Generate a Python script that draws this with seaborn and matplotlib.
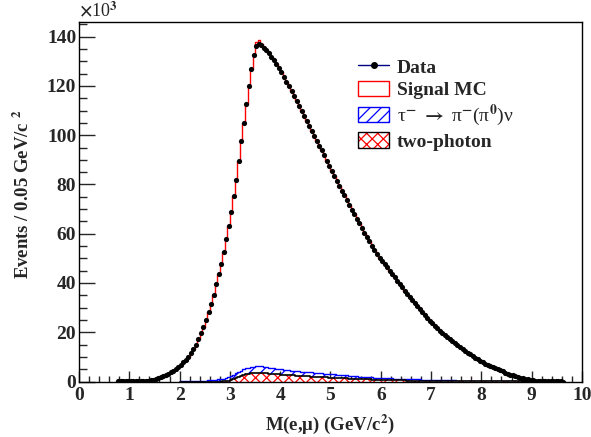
import numpy as np
import matplotlib
matplotlib.use('Agg')
import matplotlib.pyplot as plt
import seaborn as sns
from matplotlib.lines import Line2D
from matplotlib.patches import Patch
from matplotlib.legend_handler import HandlerTuple
from matplotlib.ticker import MultipleLocator

# M(e,mu) data, 0.05 GeV bins starting at 0.75 GeV, values in units of 10^3 events
bin_width = 0.05
data_start = 0.75
data_counts = [
    0.02, 0.02, 0.03, 0.04, 0.05, 0.06, 0.08, 0.10, 0.13, 0.17,
    0.22, 0.30, 0.40, 0.52, 0.75, 1.0, 1.3, 1.7, 2.1, 2.6,
    3.1, 3.7, 4.4, 5.1, 5.9, 6.9, 7.8, 8.8, 9.9, 11.4,
    13.2, 15.0, 17.2, 19.6, 22.2, 25.0, 28.2, 31.6, 35.3, 39.5,
    43.7, 47.8, 52.6, 57.7, 63.2, 68.8, 75.5, 82.0, 89.5, 97.5,
    105.0, 112.8, 120.0, 127.0, 132.4, 136.4, 137.0, 136.5,
    135.6, 134.5, 133.2, 131.9, 130.4, 128.9, 127.2, 125.5, 123.7, 121.8,
    119.9, 117.9, 115.9, 113.9, 111.9, 109.9, 107.9, 105.9, 103.9, 101.8,
    99.8, 97.8, 95.8, 93.8, 91.8, 89.7, 87.6, 85.6, 83.5, 81.5,
    79.5, 77.5, 75.6, 73.6, 71.7, 69.8, 67.9, 66.0, 64.2, 62.3,
    60.5, 58.7, 56.9, 55.2, 53.5, 51.9, 50.3,
    49.0, 47.6, 46.3, 45.0, 43.6, 42.3, 40.9, 39.6, 38.2, 36.9,
    35.5, 34.2, 33.0, 31.8, 30.6, 29.5, 28.3, 27.1, 25.9, 24.7,
    23.7, 22.7, 21.7, 20.7, 19.8, 19.0, 18.1, 17.3, 16.4, 15.5,
    14.7, 13.9, 13.2, 12.4, 11.7, 11.0, 10.4, 9.7, 9.1, 8.5,
    7.9, 7.3, 6.8, 6.2, 5.8, 5.3, 4.9, 4.5, 4.1, 3.6,
    3.2, 2.8, 2.5, 2.1, 1.8, 1.5, 1.3, 1.1, 0.9, 0.7,
    0.55, 0.4, 0.3, 0.25,
    0.18, 0.12, 0.08, 0.05, 0.03, 0.02, 0.01, 0.01, 0.0,
]

signal_mc = [
    0.02, 0.02, 0.03, 0.04, 0.05, 0.06, 0.08, 0.10, 0.13, 0.17,
    0.22, 0.30, 0.40, 0.52, 0.75, 1.0, 1.3, 1.7, 2.1, 2.6,
    3.1, 3.7, 4.4, 5.1, 5.9, 6.9, 7.8, 8.8, 9.9, 11.4,
    13.2, 15.0, 17.2, 19.6, 22.2, 25.0, 28.2, 31.6, 35.3, 39.5,
    43.7, 47.8, 52.6, 57.7, 63.2, 68.8, 75.5, 82.0, 89.5, 97.5,
    105.0, 112.8, 120.0, 127.0, 133.0, 137.8, 138.8, 137.2,
    135.8, 134.6, 133.3, 131.9, 130.4, 128.9, 127.2, 125.5, 123.7, 121.8,
    119.9, 117.9, 115.9, 113.9, 111.9, 109.9, 107.9, 105.9, 103.9, 101.8,
    99.8, 97.8, 95.8, 93.8, 91.8, 89.7, 87.6, 85.6, 83.5, 81.5,
    79.5, 77.5, 75.6, 73.6, 71.7, 69.8, 67.9, 66.0, 64.2, 62.3,
    60.5, 58.7, 56.9, 55.2, 53.5, 51.9, 50.3,
    49.0, 47.6, 46.3, 45.0, 43.6, 42.3, 40.9, 39.6, 38.2, 36.9,
    35.5, 34.2, 33.0, 31.8, 30.6, 29.5, 28.3, 27.1, 25.9, 24.7,
    23.7, 22.7, 21.7, 20.7, 19.8, 19.0, 18.1, 17.3, 16.4, 15.5,
    14.7, 13.9, 13.2, 12.4, 11.7, 11.0, 10.4, 9.7, 9.1, 8.5,
    7.9, 7.3, 6.8, 6.2, 5.8, 5.3, 4.9, 4.5, 4.1, 3.6,
    3.2, 2.8, 2.5, 2.1, 1.8, 1.5, 1.3, 1.1, 0.9, 0.7,
    0.55, 0.4, 0.3, 0.25,
    0.18, 0.12, 0.08, 0.05, 0.03, 0.02, 0.01, 0.01, 0.0,
]

# backgrounds, 0.05 GeV bins starting at 2.0 GeV
bkg_start = 2.0
tau_pipi0 = [
    0.08, 0.09, 0.10, 0.12, 0.14, 0.16, 0.19, 0.23, 0.27, 0.32,
    0.38, 0.46, 0.56, 0.66, 0.78, 0.90, 1.00, 1.10, 1.22, 1.35,
    1.48, 1.62, 1.78, 1.93, 2.08, 2.22, 2.38, 2.52, 2.65, 2.76,
    2.85, 2.88, 2.82, 2.70, 2.58, 2.48, 2.40, 2.32, 2.24, 2.17,
    2.10, 2.06, 2.02, 1.98, 1.94, 1.90, 1.86, 1.82, 1.79, 1.76,
    1.73, 1.70, 1.68, 1.65, 1.63, 1.60, 1.57, 1.54, 1.51, 1.48,
    1.45, 1.41, 1.37, 1.33, 1.29, 1.25, 1.21, 1.17, 1.13, 1.09,
    1.05, 1.02, 0.99, 0.96, 0.93, 0.90, 0.88, 0.85, 0.83, 0.81,
    0.79, 0.77, 0.75, 0.73, 0.71, 0.69, 0.67, 0.65, 0.63, 0.61,
    0.59, 0.58, 0.56, 0.55, 0.53, 0.52, 0.50, 0.49, 0.47, 0.46,
    0.45, 0.43, 0.42, 0.40, 0.39, 0.37, 0.36, 0.34, 0.33, 0.31,
    0.30, 0.29, 0.28, 0.27, 0.26, 0.25, 0.24, 0.23, 0.22, 0.21,
    0.20, 0.19, 0.18, 0.17, 0.16, 0.15, 0.14, 0.13, 0.12, 0.11,
    0.10, 0.09, 0.09, 0.08, 0.07, 0.07, 0.06, 0.06, 0.05, 0.05,
]
two_photon = [
    0, 0, 0, 0, 0, 0, 0, 0, 0, 0,
    0, 0, 0, 0, 0, 0, 0, 0.05, 0.15, 0.35,
    0.65, 1.05, 1.50, 1.95, 2.35, 2.70, 2.95, 3.15, 3.25, 3.32,
    3.36, 3.38, 3.36, 3.32, 3.26, 3.20, 3.12, 3.04, 2.96, 2.88,
    2.80, 2.72, 2.65, 2.58, 2.51, 2.44, 2.37, 2.30, 2.24, 2.18,
    2.12, 2.06, 2.00, 1.94, 1.88, 1.82, 1.76, 1.70, 1.65, 1.60,
    1.55, 1.50, 1.45, 1.40, 1.35, 1.30, 1.25, 1.20, 1.15, 1.10,
    1.05, 1.01, 0.97, 0.93, 0.89, 0.85, 0.81, 0.77, 0.73, 0.69,
    0.65, 0.62, 0.59, 0.56, 0.53, 0.50, 0.48, 0.46, 0.44, 0.42,
    0.40, 0.38, 0.36, 0.34, 0.32, 0.30, 0.28, 0.26, 0.24, 0.22,
    0.20, 0.19, 0.18, 0.17, 0.16, 0.15, 0.14, 0.13, 0.12, 0.11,
    0.10, 0.09, 0.09, 0.08, 0.08, 0.07, 0.07, 0.06, 0.06, 0.05,
    0.05, 0.04, 0.04, 0.04, 0.03, 0.03, 0.03, 0.02, 0.02, 0.02,
    0.02, 0.01, 0.01, 0.01, 0.01, 0.01, 0, 0, 0, 0,
]

sns.set_style('ticks')
plt.rcParams['font.family'] = ['Liberation Serif', 'DejaVu Serif']
plt.rcParams['font.weight'] = 'bold'
plt.rcParams['mathtext.fontset'] = 'stix'
plt.rcParams['hatch.linewidth'] = 0.9

# bin edges / centres
d_edges = data_start + bin_width * np.arange(len(data_counts) + 1)
d_centers = d_edges[:-1] + bin_width / 2
b_edges = bkg_start + bin_width * np.arange(len(tau_pipi0) + 1)
b_centers = b_edges[:-1] + bin_width / 2
stack_top = np.array(tau_pipi0) + np.array(two_photon)

fig = plt.figure(figsize=(5.91, 4.37), dpi=100)
ax = fig.add_axes([0.1337, 0.127, 0.851, 0.8228])

# tau -> pi pi0 nu stacked on top of two-photon
sns.histplot(x=b_centers, weights=stack_top, bins=list(b_edges), element='step', fill=True,
             color='blue', facecolor='none', edgecolor='blue', hatch='///', linewidth=1.0,
             ax=ax, zorder=1)
sns.histplot(x=b_centers, weights=two_photon, bins=list(b_edges), element='step', fill=True,
             color='red', facecolor='white', edgecolor='red', hatch='xxx', linewidth=0,
             ax=ax, zorder=2)
sns.histplot(x=b_centers, weights=two_photon, bins=list(b_edges), element='step', fill=False,
             color='black', linewidth=1.2, ax=ax, zorder=3)
# signal MC
sns.histplot(x=d_centers, weights=signal_mc, bins=list(d_edges), element='step', fill=False,
             color='red', linewidth=1.0, ax=ax, zorder=4)
# data
sns.scatterplot(x=d_centers, y=data_counts, color='black', s=14, linewidth=0, ax=ax, zorder=5)

ax.set_xlim(0, 10)
ax.set_ylim(0, 146)
ax.xaxis.set_major_locator(MultipleLocator(1))
ax.xaxis.set_minor_locator(MultipleLocator(0.2))
ax.yaxis.set_major_locator(MultipleLocator(20))
ax.yaxis.set_minor_locator(MultipleLocator(5))
ax.tick_params(axis='both', which='both', direction='in', top=False, right=False,
               labelsize=14, width=1.0)
ax.tick_params(axis='x', which='major', length=8, pad=4)
ax.tick_params(axis='x', which='minor', length=4)
ax.tick_params(axis='y', which='major', length=11.5, pad=2)
ax.tick_params(axis='y', which='minor', length=6)
for sp in ax.spines.values():
    sp.set_linewidth(1.0)
    sp.set_color('black')

ax.set_xlabel('')
ax.set_ylabel('')
fig.text(0.5584, 0.017, 'M(e,\u03bc) (GeV/c$^{\\mathbf{2}}$)', ha='center', va='baseline',
         fontsize=13.5, fontweight='bold')
fig.text(0.038, 0.555, 'Events / 0.05 GeV/c $^{\\mathbf{2}}$', ha='center', va='center',
         rotation=90, fontsize=13.5, fontweight='bold')
ax.text(0.0, 1.004, '$\\times$10$^{3}$', transform=ax.transAxes, ha='left', va='bottom',
        fontsize=13, fontweight='normal')

handles = [
    Line2D([], [], color='navy', linewidth=1.0, marker='o', markersize=4,
           markerfacecolor='black', markeredgecolor='black'),
    Patch(facecolor='white', edgecolor='red', linewidth=1.0),
    Patch(facecolor='white', edgecolor='blue', hatch='///', linewidth=1.0),
    (Patch(facecolor='white', edgecolor='red', hatch='xxx', linewidth=0),
     Patch(facecolor='none', edgecolor='black', linewidth=1.0)),
]
labels = ['Data', 'Signal MC',
          '\u03c4$^{-}$ $\\rightarrow$ \u03c0$^{-}$(\u03c0$^{\\mathbf{0}}$)\u03bd',
          'two-photon']
leg = ax.legend(handles, labels, loc='upper left', bbox_to_anchor=(0.5547, 0.899),
                frameon=False, fontsize=14, handlelength=1.6, handleheight=0.85,
                labelspacing=0.2, handletextpad=0.4, borderaxespad=0, borderpad=0,
                handler_map={tuple: HandlerTuple(ndivide=1, pad=0)})
leg.get_texts()[2].set_fontweight('normal')

fig.savefig('out.png', dpi=100)
